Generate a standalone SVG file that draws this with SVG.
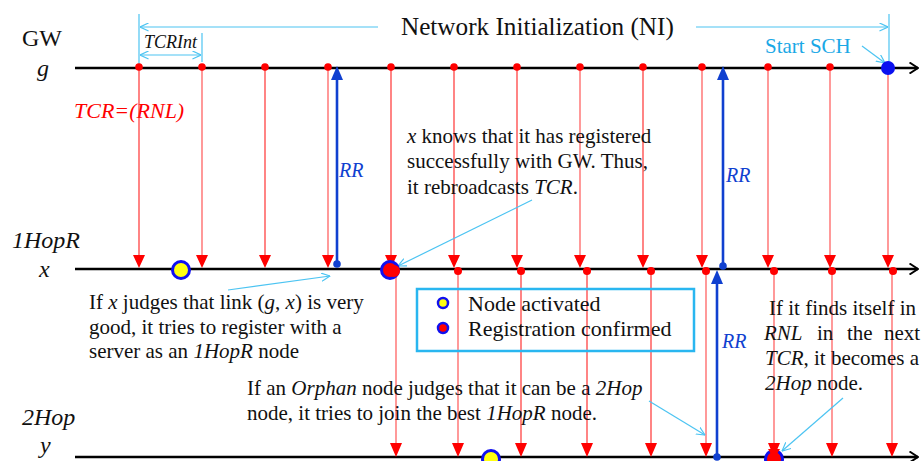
<svg xmlns="http://www.w3.org/2000/svg" width="921" height="461" viewBox="0 0 921 461" font-family="'Liberation Serif', 'DejaVu Serif', serif">
<style>
text{font-family:'Liberation Serif','DejaVu Serif',serif;fill:#111}
.lbl{font-size:24px}
.it{font-style:italic}
.body{font-size:21px}
.tl{stroke:#000;stroke-width:2.5;fill:none}
.r{stroke:#ff2020;stroke-width:1.1;fill:none}
.p{stroke:#ff8080;stroke-width:1.6;fill:none}
.rh{fill:#ff0000}
.rd{fill:#ff0000}
.b{stroke:#1040d0;stroke-width:2.6;fill:none}
.bh{fill:#1040d0}
.c{stroke:#4cc4f2;stroke-width:1.2;fill:none}
.ctext{fill:#1aa8e6}
.rr{font-size:20px;font-style:italic;fill:#1040d0}
</style>
<defs>
<marker id="ca" viewBox="0 0 10 10" refX="9.5" refY="5" markerWidth="9" markerHeight="9" markerUnits="userSpaceOnUse" orient="auto-start-reverse">
<path d="M0,0.5 L9.5,5 L0,9.5" fill="none" stroke="#4cc4f2" stroke-width="1.3"/>
</marker>
<marker id="ka" viewBox="0 0 10 12" refX="9.5" refY="6" markerWidth="10" markerHeight="12" markerUnits="userSpaceOnUse" orient="auto">
<path d="M1,0.5 L9.5,6 L1,11.5" fill="none" stroke="#000" stroke-width="2"/>
</marker>
</defs>
<rect width="921" height="461" fill="#fff"/>

<!-- dimension annotations -->
<g id="dimensions">
<line class="c" x1="139" y1="14" x2="139" y2="66"/>
<line class="c" x1="202" y1="33" x2="202" y2="62"/>
<line class="c" x1="889" y1="14" x2="889" y2="62"/>
<line class="c" x1="140" y1="55" x2="201" y2="55" marker-start="url(#ca)" marker-end="url(#ca)"/>
<line class="c" x1="140" y1="27" x2="378" y2="27" marker-start="url(#ca)"/>
<line class="c" x1="696" y1="27" x2="888" y2="27" marker-end="url(#ca)"/>
<text x="144" y="48" class="it" font-size="18">TCRInt</text>
<text x="401" y="35" font-size="25.2">Network Initialization (NI)</text>
<text x="765" y="53" font-size="21" class="ctext">Start SCH</text>
</g>

<!-- timeline labels -->
<g id="labels">
<text x="22" y="46" class="lbl">GW</text>
<text x="37" y="76" class="lbl it">g</text>
<text x="12" y="248" class="lbl it">1HopR</text>
<text x="39" y="277" class="lbl it">x</text>
<text x="22" y="425" class="lbl it">2Hop</text>
<text x="40" y="453" class="lbl it">y</text>
<text x="74" y="118" font-size="22" class="it" style="fill:#ff0000">TCR=(RNL)</text>
</g>

<!-- timelines -->
<g id="timelines">
<line class="tl" x1="75" y1="68" x2="918" y2="68" marker-end="url(#ka)"/>
<line class="tl" x1="75" y1="269" x2="918" y2="269" marker-end="url(#ka)"/>
<line class="tl" x1="75" y1="457" x2="918" y2="457" marker-end="url(#ka)"/>
</g>

<!-- connectors -->
<g id="connectors">
<g id="tcr-g-x">
<line class="r" x1="139" y1="68" x2="139" y2="256"/>
<line class="p" x1="202" y1="68" x2="202" y2="256"/>
<line class="r" x1="265" y1="68" x2="265" y2="256"/>
<line class="p" x1="328" y1="68" x2="328" y2="256"/>
<line class="r" x1="391" y1="68" x2="391" y2="256"/>
<line class="r" x1="454" y1="68" x2="454" y2="256"/>
<line class="r" x1="517" y1="68" x2="517" y2="256"/>
<line class="p" x1="580" y1="68" x2="580" y2="256"/>
<line class="r" x1="643" y1="68" x2="643" y2="256"/>
<line class="p" x1="702" y1="68" x2="702" y2="256"/>
<line class="p" x1="768" y1="68" x2="768" y2="256"/>
<line class="p" x1="830" y1="68" x2="830" y2="256"/>
<line class="p" x1="888" y1="68" x2="888" y2="256"/>
<path class="rh" d="M133,255H145L139,268Z M196,255H208L202,268Z M259,255H271L265,268Z M322,255H334L328,268Z M385,255H397L391,268Z M448,255H460L454,268Z M511,255H523L517,268Z M574,255H586L580,268Z M637,255H649L643,268Z M696,255H708L702,268Z M762,255H774L768,268Z M824,255H836L830,268Z M882,255H894L888,268Z"/>
</g>
<g id="tcr-x-y">
<line class="p" x1="396" y1="271" x2="396" y2="444"/>
<line class="p" x1="458" y1="271" x2="458" y2="444"/>
<line class="r" x1="521" y1="271" x2="521" y2="444"/>
<line class="r" x1="587" y1="271" x2="587" y2="444"/>
<line class="r" x1="651" y1="271" x2="651" y2="444"/>
<line class="p" x1="706" y1="271" x2="706" y2="444"/>
<line class="p" x1="774" y1="271" x2="774" y2="444"/>
<line class="p" x1="832" y1="271" x2="832" y2="444"/>
<line class="p" x1="892" y1="271" x2="892" y2="444"/>
<path class="rh" d="M390,443H402L396,457Z M452,443H464L458,457Z M515,443H527L521,457Z M581,443H593L587,457Z M645,443H657L651,457Z M700,443H712L706,457Z M768,443H780L774,457Z M826,443H838L832,457Z M886,443H898L892,457Z"/>
</g>
<g id="rr">
<line class="b" x1="337" y1="264" x2="337" y2="78"/>
<path class="bh" d="M331,80H343L337,66Z"/>
<circle class="bh" cx="337" cy="264" r="3.8"/>
<line class="b" x1="723" y1="266" x2="723" y2="78"/>
<path class="bh" d="M717,80H729L723,66Z"/>
<circle class="bh" cx="723" cy="266" r="3.8"/>
<line class="b" x1="717" y1="457" x2="717" y2="282"/>
<path class="bh" d="M711,284H723L717,270Z"/>
<circle class="bh" cx="717" cy="457" r="3.8"/>
</g>
<g id="pointers">
<line class="c" x1="862" y1="46" x2="885" y2="63" marker-end="url(#ca)"/>
<line class="c" x1="228" y1="290" x2="330" y2="276" marker-end="url(#ca)"/>
<line class="c" x1="532" y1="200" x2="398" y2="266" marker-end="url(#ca)"/>
<line class="c" x1="649" y1="401" x2="705" y2="435" marker-end="url(#ca)"/>
<line class="c" x1="843" y1="398" x2="782" y2="451" marker-end="url(#ca)"/>
</g>
</g>

<!-- events / nodes -->
<g id="gw-events">
<circle class="rd" cx="139" cy="67" r="3.8"/>
<circle class="rd" cx="202" cy="67" r="3.8"/>
<circle class="rd" cx="265" cy="67" r="3.8"/>
<circle class="rd" cx="328" cy="67" r="3.8"/>
<circle class="rd" cx="391" cy="67" r="3.8"/>
<circle class="rd" cx="454" cy="67" r="3.8"/>
<circle class="rd" cx="517" cy="67" r="3.8"/>
<circle class="rd" cx="580" cy="67" r="3.8"/>
<circle class="rd" cx="643" cy="67" r="3.8"/>
<circle class="rd" cx="702" cy="67" r="3.8"/>
<circle class="rd" cx="768" cy="67" r="3.8"/>
<circle class="rd" cx="830" cy="67" r="3.8"/>
<circle cx="888" cy="68" r="7" fill="#0a10f0"/>
</g>
<g id="x-events">
<circle class="rd" cx="458" cy="271" r="4"/>
<circle class="rd" cx="521" cy="271" r="4"/>
<circle class="rd" cx="587" cy="271" r="4"/>
<circle class="rd" cx="651" cy="271" r="4"/>
<circle class="rd" cx="706" cy="271" r="4"/>
<circle class="rd" cx="774" cy="271" r="4"/>
<circle class="rd" cx="832" cy="271" r="4"/>
<circle class="rd" cx="893" cy="271" r="4"/>
</g>
<g id="node-x-activated">
<circle cx="181" cy="270" r="8.5" fill="#ffff10" stroke="#1010f0" stroke-width="3"/>
</g>
<g id="node-x-confirmed">
<circle cx="390" cy="270" r="8.5" fill="#ff0000" stroke="#1010f0" stroke-width="3"/>
<circle cx="394" cy="271" r="6" fill="#ff0000"/>
</g>
<g id="node-y-activated">
<circle cx="491" cy="459" r="8.5" fill="#ffff10" stroke="#1010f0" stroke-width="3"/>
</g>
<g id="node-y-confirmed">
<circle cx="774" cy="459" r="8.5" fill="#ff0000" stroke="#1010f0" stroke-width="3"/>
<path class="rh" d="M768,449H780L774,459Z"/>
</g>

<g id="rr-labels">
<text x="339" y="177" class="rr">RR</text>
<text x="726" y="182" class="rr">RR</text>
<text x="722" y="348" class="rr">RR</text>
</g>

<g id="legend">
<rect x="417" y="289" width="277" height="62" fill="none" stroke="#29b6f0" stroke-width="2.5"/>
<circle cx="443" cy="303" r="5" fill="#ffff10" stroke="#1010f0" stroke-width="2.5"/>
<circle cx="443" cy="328" r="5" fill="#ff0000" stroke="#1010f0" stroke-width="2.5"/>
<text x="468" y="311" font-size="22">Node activated</text>
<text x="468" y="336" font-size="22">Registration confirmed</text>
</g>

<g id="note-register">
<text class="body" x="89" y="309">If <tspan class="it">x</tspan> judges that link (<tspan class="it">g</tspan>, <tspan class="it">x</tspan>) is very</text>
<text class="body" x="89" y="334">good, it tries to register with a</text>
<text class="body" x="89" y="358">server as an <tspan class="it">1HopR</tspan> node</text>
</g>
<g id="note-rebroadcast">
<text class="body" x="407" y="143"><tspan class="it">x</tspan> knows that it has registered</text>
<text class="body" x="407" y="168">successfully with GW. Thus,</text>
<text class="body" x="407" y="194">it rebroadcasts <tspan class="it">TCR</tspan>.</text>
</g>
<g id="note-orphan">
<text class="body" x="247" y="395">If an <tspan class="it">Orphan</tspan> node judges that it can be a <tspan class="it">2Hop</tspan></text>
<text class="body" x="247" y="420">node, it tries to join the best <tspan class="it">1HopR</tspan> node.</text>
</g>
<g id="note-2hop">
<text class="body" x="769" y="315">If it finds itself in</text>
<text class="body it" x="764" y="340">RNL</text>
<text class="body" x="817" y="340">in</text>
<text class="body" x="847" y="340">the</text>
<text class="body" x="884" y="340">next</text>
<text class="body" x="765" y="365"><tspan class="it">TCR</tspan>, it becomes a</text>
<text class="body" x="765" y="390"><tspan class="it">2Hop</tspan> node.</text>
</g>
</svg>
